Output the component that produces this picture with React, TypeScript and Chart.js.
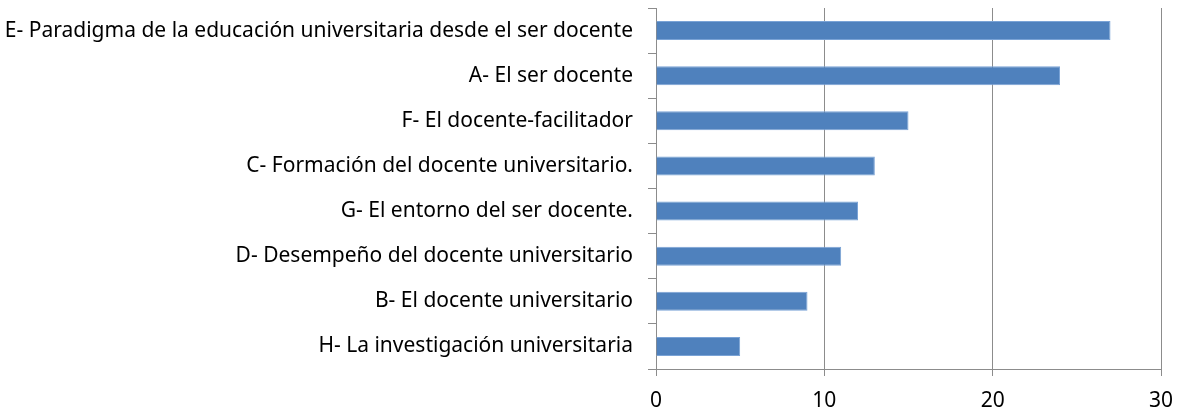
import React, { useEffect, useRef } from "react";
import { Chart, registerables } from "chart.js";

Chart.register(...registerables);

const categories = [
  "E- Paradigma de la educación universitaria desde el ser docente",
  "A- El ser docente",
  "F- El docente-facilitador",
  "C- Formación del docente universitario.",
  "G- El entorno del ser docente.",
  "D- Desempeño del docente universitario",
  "B- El docente universitario",
  "H- La investigación universitaria",
];
const values = [27, 24, 15, 13, 12, 11, 9, 5];
const xTicks = [0, 10, 20, 30];

const FONT = "'Noto Sans', sans-serif";

export default function App() {
  const ref = useRef<HTMLCanvasElement | null>(null);
  useEffect(() => {
    document.body.style.margin = "0";
    const chart = new Chart(ref.current!, {
      type: "bar",
      data: {
        labels: categories,
        datasets: [
          {
            data: values,
            backgroundColor: "#4F81BD",
            borderColor: "#7AA3D6",
            borderWidth: 1,
            categoryPercentage: 1,
            barPercentage: 0.42,
          },
        ],
      },
      options: {
        indexAxis: "y",
        animation: false,
        responsive: false,
        maintainAspectRatio: false,
        layout: { padding: { top: 8, right: 20, bottom: 0, left: 0 } },
        plugins: { legend: { display: false }, tooltip: { enabled: false } },
        scales: {
          x: {
            min: 0,
            max: 30,
            afterBuildTicks: (s: any) => {
              s.ticks = xTicks.map((v) => ({ value: v }));
            },
            afterFit: (s: any) => {
              s.height = 42;
              s.paddingLeft = 0;
              s.paddingRight = 0;
            },
            grid: {
              color: "#8C8C8C",
              lineWidth: 1,
              tickLength: 7,
              drawTicks: true,
            },
            border: { color: "#8C8C8C" },
            ticks: {
              font: { family: FONT, size: 21 },
              color: "#000",
              padding: 12,
            },
          },
          y: {
            afterFit: (s: any) => {
              s.width = 656;
              s.paddingTop = 0;
              s.paddingBottom = 0;
            },
            grid: {
              drawOnChartArea: false,
              drawTicks: true,
              tickLength: 8,
              color: "#8C8C8C",
              offset: true,
            },
            border: { color: "#8C8C8C" },
            ticks: {
              font: { family: FONT, size: 21 },
              color: "#000",
              padding: 15,
              autoSkip: false,
            },
          },
        },
      },
    });
    return () => chart.destroy();
  }, []);
  return <canvas ref={ref} width={1181} height={411} style={{ display: "block" }} />;
}
